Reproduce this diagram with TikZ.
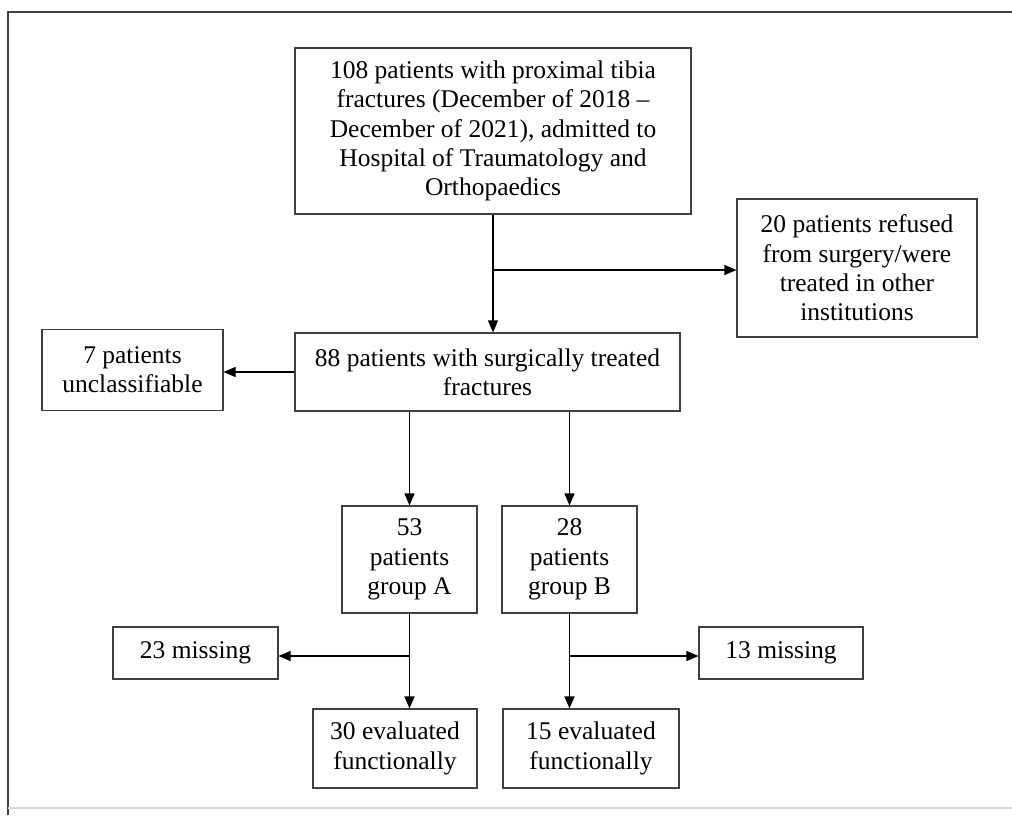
\documentclass[tikz,border=0pt]{standalone}
\usepackage{fontspec}
\setmainfont{Liberation Serif}
\usetikzlibrary{arrows.meta}

\begin{document}
\begin{tikzpicture}[x=1pt,y=-1pt]
	\tikzstyle{box}=[draw=black!75,line width=1.1pt,align=center,inner sep=0pt,font=\fontsize{25.5}{29.3}\selectfont]
	\tikzstyle{arr}=[-{Triangle[length=12pt,width=10pt]},line width=1.1pt]
	\useasboundingbox (0,0) rectangle (1012,815);
	\draw[line width=2pt,black!75] (8,815) -- (8,12) -- (1012,12);
	\draw[line width=1.2pt,black!15] (8,808) -- (1012,808);
	\node[box,minimum width=396pt,minimum height=166pt](start) at (493,131) {108 patients with proximal tibia\\fractures (December of 2018 --\\December of 2021), admitted to\\Hospital of Traumatology and\\Orthopaedics};
	\node[box,minimum width=240pt,minimum height=138pt](refused) at (857,268) {20 patients refused\\from surgery/were\\treated in other\\institutions};
	\node[box,minimum width=385pt,minimum height=78pt](treated) at (487.5,372) {88 patients with surgically treated\\fractures};
	\node[box,minimum width=181pt,minimum height=81pt](unclass) at (132.5,370) {7 patients\\unclassifiable};
	\node[box,minimum width=135pt,minimum height=107pt](grpA) at (409.5,559.5) {53\\patients\\group A};
	\node[box,minimum width=135pt,minimum height=107pt](grpB) at (569.5,559.5) {28\\patients\\group B};
	\node[box,minimum width=165pt,minimum height=52pt](missA) at (195.5,653) {23 missing};
	\node[box,minimum width=164pt,minimum height=52pt](missB) at (781,653) {13 missing};
	\node[box,minimum width=164pt,minimum height=79pt](evalA) at (395,748.5) {30 evaluated\\functionally};
	\node[box,minimum width=176pt,minimum height=79pt](evalB) at (591,748.5) {15 evaluated\\functionally};
	\coordinate (s1) at (493,270);
	\coordinate (s2) at (409.5,656);
	\coordinate (s3) at (569.5,656);
	\draw[arr] (start.south) -- (start.south |- treated.north);
	\draw[arr] (s1) -- (s1 -| refused.west);
	\draw[arr] (treated.west) -- (treated.west -| unclass.east);
	\draw[arr] (grpA.north |- treated.south) -- (grpA.north);
	\draw[arr] (grpB.north |- treated.south) -- (grpB.north);
	\draw[arr] (grpA.south) -- (grpA.south |- evalA.north);
	\draw[arr] (s2) -- (s2 -| missA.east);
	\draw[arr] (grpB.south) -- (grpB.south |- evalB.north);
	\draw[arr] (s3) -- (s3 -| missB.west);
\end{tikzpicture}
\end{document}
